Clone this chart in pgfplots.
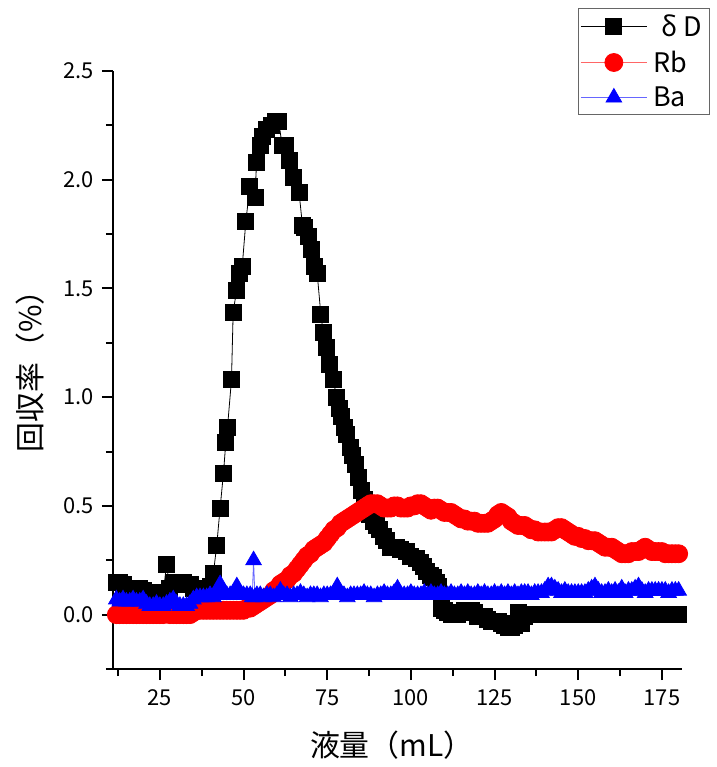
\documentclass[border=0pt]{standalone}
\usepackage{pgfplots}
\usepackage{pgfplotstable}
\pgfplotsset{compat=1.18}
\usepackage{fontspec}
\setmainfont{Noto Sans CJK JP}

\pgfplotstableread{
x y
12 0.15
13 0.15
14 0.14
15 0.12
16 0.12
17 0.11
18 0.12
19 0.12
20 0.11
21 0.10
22 0.09
23 0.09
24 0.08
25 0.09
26 0.10
27 0.23
28 0.12
29 0.15
30 0.15
31 0.15
32 0.15
33 0.14
34 0.14
35 0.12
36 0.11
37 0.12
38 0.12
39 0.12
40 0.13
41 0.19
42 0.32
43 0.49
44 0.65
44.7 0.79
45.2 0.86
46.4 1.08
46.9 1.39
47.9 1.49
48.9 1.57
49.6 1.60
50.7 1.81
51.9 1.97
53.4 1.92
53.9 2.08
55.1 2.16
55.7 2.20
56.9 2.23
58.3 2.25
59.4 2.27
60.5 2.27
61.5 2.16
62.5 2.16
63.8 2.09
65.0 2.01
66.6 1.94
67.6 1.79
68.3 1.78
69.3 1.74
70.3 1.68
71.3 1.60
72.0 1.57
73.1 1.38
73.8 1.30
74.8 1.23
75.8 1.15
76.8 1.08
77.8 1.00
78.6 0.95
79.3 0.91
80.1 0.86
80.6 0.83
81.8 0.77
82.5 0.73
83.3 0.69
84.2 0.63
85.2 0.57
86.0 0.53
86.7 0.49
87.7 0.46
88.7 0.43
89.7 0.41
90.7 0.39
91.7 0.36
92.7 0.34
94.0 0.31
95.7 0.31
97.0 0.30
98.7 0.29
100.0 0.27
101.7 0.26
102.7 0.24
103.7 0.22
104.7 0.20
105.7 0.18
106.6 0.17
107.5 0.15
108.3 0.13
109 0.03
110 0.02
111 0.01
112 0.00
113 0.01
114 0.00
115 0.01
116 0.02
117 0.02
118 0.02
119 0.01
120 -0.01
121 -0.01
122 -0.01
123 -0.02
124 -0.03
125 -0.03
126 -0.03
127 -0.04
128 -0.05
129 -0.06
130 -0.06
131 -0.05
132 0.01
133 -0.04
134 -0.01
135 0.00
136 0.00
137 0.00
138 0.00
139 0.00
140 0.00
141 0.00
142 0.00
143 0.00
144 0.00
145 0.00
146 0.00
147 0.00
148 0.00
149 0.00
150 0.00
151 0.00
152 0.00
153 0.00
154 0.00
155 0.00
156 0.00
157 0.00
158 0.00
159 0.00
160 0.00
161 0.00
162 0.00
163 0.00
164 0.00
165 0.00
166 0.00
167 0.00
168 0.00
169 0.00
170 0.00
171 0.00
172 0.00
173 0.00
174 0.00
175 0.00
176 0.00
177 0.00
178 0.00
179 0.00
180 0.00
}\dD

\pgfplotstableread{
x y
12 0.00
13 0.00
14 0.00
15 0.00
16 0.00
17 0.00
18 0.00
19 0.00
20 0.00
21 0.00
22 0.00
23 0.00
24 0.00
25 0.00
26 0.00
27 0.01
28 0.00
29 0.00
30 0.00
31 0.00
32 0.00
33 0.00
34 0.00
35 0.01
36 0.02
37 0.02
38 0.02
39 0.02
40 0.02
41 0.02
42 0.02
43 0.02
44 0.02
45 0.02
46 0.02
47 0.02
48 0.02
49 0.02
50 0.02
51 0.03
52 0.03
53 0.04
54 0.05
55 0.06
56 0.07
57 0.08
58 0.09
59 0.11
60 0.12
61 0.14
62 0.15
63 0.16
64 0.18
65 0.19
66 0.21
67 0.23
68 0.25
69 0.27
70 0.28
71 0.30
72 0.31
73 0.32
74 0.33
75 0.35
76 0.37
77 0.39
78 0.40
79 0.42
80 0.43
81 0.44
82 0.45
83 0.46
84 0.47
85 0.48
86 0.49
87 0.50
88 0.51
89 0.51
90 0.51
91 0.50
92 0.49
93 0.49
94 0.49
95 0.50
96 0.50
97 0.49
98 0.49
99 0.49
100 0.50
101 0.50
102 0.51
103 0.51
104 0.50
105 0.49
106 0.48
107 0.49
108 0.49
109 0.48
110 0.47
111 0.47
112 0.47
113 0.46
114 0.45
115 0.44
116 0.44
117 0.43
118 0.43
119 0.43
120 0.42
121 0.42
122 0.42
123 0.42
124 0.43
125 0.44
126 0.46
127 0.47
128 0.46
129 0.45
130 0.43
131 0.42
132 0.41
133 0.41
134 0.41
135 0.40
136 0.39
137 0.39
138 0.38
139 0.38
140 0.38
141 0.38
142 0.38
143 0.39
144 0.40
145 0.40
146 0.39
147 0.38
148 0.37
149 0.36
150 0.36
151 0.35
152 0.35
153 0.34
154 0.34
155 0.34
156 0.33
157 0.32
158 0.31
159 0.31
160 0.31
161 0.30
162 0.29
163 0.28
164 0.28
165 0.28
166 0.29
167 0.29
168 0.29
169 0.30
170 0.31
171 0.30
172 0.29
173 0.29
174 0.29
175 0.29
176 0.28
177 0.28
178 0.28
179 0.28
180 0.28
}\Rb

\pgfplotstableread{
x y
12 0.07
13 0.06
14 0.07
15 0.06
16 0.06
17 0.07
18 0.06
19 0.06
20 0.07
21 0.05
22 0.04
23 0.04
24 0.05
25 0.04
26 0.04
27 0.05
28 0.06
29 0.07
30 0.05
31 0.04
32 0.04
33 0.04
34 0.05
35 0.07
36 0.08
37 0.08
38 0.08
39 0.08
40 0.09
41 0.08
42 0.10
43 0.14
44 0.10
45 0.09
46 0.09
47 0.10
48 0.13
49 0.09
50 0.09
51 0.09
52 0.09
52.6 0.08
53 0.25
53.4 0.08
54 0.09
55 0.09
56 0.08
57 0.09
58 0.09
59 0.08
60 0.09
61 0.11
62 0.09
63 0.09
64 0.08
65 0.09
66 0.09
67 0.10
68 0.09
69 0.08
70 0.09
71 0.09
72 0.09
73 0.08
74 0.09
75 0.09
76 0.09
77 0.10
78 0.13
79 0.09
80 0.09
81 0.08
82 0.09
83 0.09
84 0.09
85 0.09
86 0.10
87 0.09
88 0.09
89 0.08
90 0.09
91 0.09
92 0.10
93 0.09
94 0.09
95 0.10
96 0.12
97 0.09
98 0.09
99 0.09
100 0.10
101 0.09
102 0.09
103 0.09
104 0.10
105 0.09
106 0.10
107 0.09
108 0.09
109 0.10
110 0.09
111 0.09
112 0.10
113 0.09
114 0.09
115 0.10
116 0.09
117 0.10
118 0.09
119 0.09
120 0.10
121 0.09
122 0.10
123 0.09
124 0.09
125 0.10
126 0.09
127 0.10
128 0.09
129 0.10
130 0.09
131 0.10
132 0.09
133 0.10
134 0.10
135 0.10
136 0.09
137 0.10
138 0.10
139 0.10
140 0.11
141 0.13
142 0.13
143 0.12
144 0.11
145 0.10
146 0.11
147 0.10
148 0.10
149 0.10
150 0.10
151 0.10
152 0.10
153 0.11
154 0.12
155 0.13
156 0.11
157 0.10
158 0.10
159 0.11
160 0.10
161 0.11
162 0.10
163 0.12
164 0.10
165 0.11
166 0.11
167 0.12
168 0.13
169 0.11
170 0.10
171 0.11
172 0.11
173 0.11
174 0.11
175 0.11
176 0.11
177 0.10
178 0.11
179 0.11
180 0.11
}\Ba

\begin{document}
\begin{tikzpicture}
\begin{axis}[
  scale only axis,
  width=569bp, height=598bp,
  xmin=11, xmax=181, ymin=-0.25, ymax=2.5,
  axis x line*=bottom, axis y line*=left,
  axis line style={-, line width=2.5bp, black},
  every outer x axis line/.append style={-},
  every outer y axis line/.append style={-},
  xtick={25,50,...,175},
  minor xtick={12.5,37.5,...,162.5},
  ytick={0,0.5,...,2.5},
  minor ytick={-0.25,0.25,...,2.25},
  tick align=outside,
  major tick length=11bp, minor tick length=7bp,
  tick style={line width=2bp, black},
  /pgf/number format/assume math mode=true,
  yticklabel style={/pgf/number format/fixed, /pgf/number format/fixed zerofill, /pgf/number format/precision=1, xshift=-5bp},
  xticklabel style={/pgf/number format/fixed, /pgf/number format/precision=0, yshift=-6bp},
  ticklabel style={font=\fontsize{22}{22}\selectfont},
  xlabel={液量（mL）},
  ylabel={回収率（\%）},
  label style={font=\fontsize{30}{30}\selectfont},
  xlabel style={at={(axis description cs:0.49,-0.127)}, anchor=center},
  ylabel style={at={(axis description cs:-0.146,0.51)}, anchor=center},
  legend style={at={(axis description cs:0.817,1.105)}, anchor=north west,
    draw=gray!80!black, line width=1.2bp, font=\fontsize{27}{27}\selectfont,
    inner xsep=2bp, inner ysep=4bp, row sep=9bp, cells={anchor=west},
    nodes={inner xsep=6bp}},
  legend cell align=left,
  every axis plot/.append style={legend image code/.code={\draw[mark repeat=2, mark phase=2, #1] plot coordinates {(0bp,0bp) (33bp,0bp) (66bp,0bp)};}},
]
\addplot[black, line width=0.8bp, mark=square*, mark size=8bp, mark options={solid, fill=black, draw=black}] table[x=x,y=y]{\dD};
\addlegendentry{\hspace{8bp}δ\hspace{6bp}D}
\addplot[red!60, line width=0.8bp, mark=*, mark size=9bp, mark options={solid, fill=red, draw=red}] table[x=x,y=y]{\Rb};
\addlegendentry{Rb}
\addplot[blue!60, line width=0.8bp, mark=triangle*, mark size=9bp, mark options={solid, fill=blue, draw=blue}] table[x=x,y=y]{\Ba};
\addlegendentry{Ba}
\end{axis}
\pgfresetboundingbox
\path ([shift={(-113bp,-98bp)}]current axis.south west) rectangle ++(717bp,767bp);
\end{tikzpicture}
\end{document}
